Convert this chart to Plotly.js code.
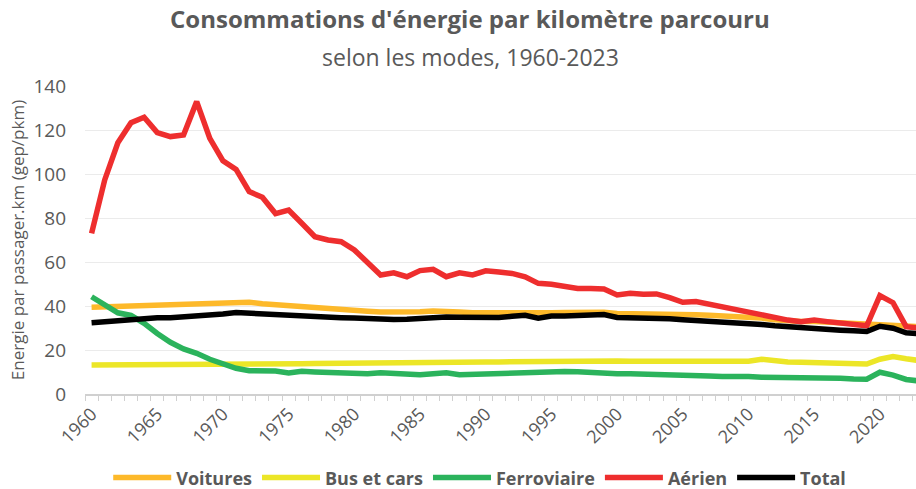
<!DOCTYPE html>
<html>
<head>
<meta charset="utf-8">
<script src="https://cdn.plot.ly/plotly-3.0.1.min.js"></script>
<style>html,body{margin:0;padding:0;background:#fff;}#chart{width:916px;height:489px;}</style>
</head>
<body>
<div id="chart"></div>
<script>
const years = [];
for (let y = 1960; y <= 2023; y++) years.push(y);

const tickYears = [1960, 1965, 1970, 1975, 1980, 1985, 1990, 1995, 2000, 2005, 2010, 2015, 2020];
const tickLabels = ["1960", "1965", "1970", "1975", "1980", "1985", "1990", "1995", "2000", "2005", "2010", "2015", "2020"];

const voitures = [
  39.4, 39.6, 40.0, 40.2, 40.5, 40.6, 40.8, 41.0, 41.3, 41.5,
  41.8, 42.0, 41.7, 41.0, 40.5, 40.0, 39.5, 39.0, 38.7, 38.3,
  38.0, 37.6, 37.3, 37.2, 37.2, 37.4, 37.7, 37.7, 37.3, 36.9,
  36.8, 36.8, 37.0, 37.1, 36.8, 36.9, 37.0, 37.1, 37.1, 37.2,
  36.6, 36.6, 36.6, 36.5, 36.3, 36.2, 36.0, 35.8, 35.6, 35.4,
  35.2, 34.5, 33.8, 33.2, 33.0, 32.9, 32.6, 32.4, 32.2, 32.0,
  32.0, 31.6, 31.0, 30.6
];
const busCars = [
  13.2, 13.2, 13.2, 13.2, 13.2, 13.2, 13.2, 13.2, 13.2, 13.2,
  13.2, 13.3, 13.4, 13.5, 13.6, 13.7, 13.8, 13.9, 14.0, 14.1,
  14.1, 14.1, 14.2, 14.2, 14.3, 14.3, 14.3, 14.4, 14.4, 14.5,
  14.6, 14.6, 14.7, 14.8, 14.9, 15.0, 15.2, 15.3, 15.3, 15.3,
  15.0, 14.9, 14.9, 14.9, 14.9, 14.9, 14.9, 14.9, 14.9, 14.9,
  14.9, 15.8, 14.9, 14.6, 14.4, 14.2, 13.8, 13.8, 13.9, 13.6,
  15.8, 17.0, 16.0, 15.2
];
const ferroviaire = [
  44.2, 40.5, 36.9, 35.7, 32.1, 27.5, 23.5, 20.5, 18.5, 15.8,
  13.8, 11.7, 10.6, 10.5, 10.4, 9.6, 10.3, 10.0, 9.8, 10.2,
  9.6, 9.2, 9.7, 9.4, 9.0, 8.8, 9.2, 9.6, 8.8, 9.0,
  9.4, 9.7, 9.3, 9.8, 9.9, 10.1, 10.2, 10.1, 9.7, 9.5,
  9.2, 9.2, 9.1, 9.2, 9.1, 8.9, 8.6, 8.2, 7.9, 8.1,
  7.9, 7.6, 7.6, 7.6, 7.6, 7.7, 7.6, 7.2, 6.8, 6.7,
  9.9, 8.6, 6.6, 5.9
];
const aerien = [
  73.0, 97.3, 114.2, 123.3, 125.8, 118.8, 117.0, 117.7, 132.9, 116.2,
  106.0, 102.1, 92.0, 89.4, 82.0, 83.6, 77.6, 71.5, 70.0, 69.2,
  65.5, 59.7, 54.1, 55.1, 53.3, 56.1, 56.7, 53.3, 55.1, 54.1,
  56.0, 55.5, 54.8, 53.3, 50.3, 49.9, 49.1, 48.0, 48.0, 47.7,
  45.0, 45.8, 45.3, 45.5, 43.8, 41.7, 42.0, 40.8, 39.7, 38.2,
  37.0, 36.4, 34.8, 33.6, 32.9, 33.6, 32.9, 32.1, 31.4, 31.0,
  44.7, 41.5, 30.6, 30.0
];
const total = [
  32.4, 32.9, 33.6, 34.2, 34.6, 34.7, 34.7, 35.0, 35.6, 36.0,
  36.4, 37.0, 36.7, 36.4, 35.6, 35.5, 35.3, 35.0, 34.8, 34.7,
  34.5, 34.2, 33.9, 33.9, 34.0, 34.5, 35.1, 35.0, 34.9, 34.7,
  34.7, 34.8, 35.3, 35.8, 34.5, 35.4, 35.5, 35.6, 35.7, 36.1,
  34.8, 34.8, 34.8, 34.7, 34.2, 33.8, 33.5, 33.2, 32.9, 32.6,
  32.2, 31.6, 31.0, 30.5, 30.0, 29.8, 29.5, 29.0, 28.7, 28.4,
  30.8, 29.9, 27.8, 27.4
];

const seriesNames = ["Voitures", "Bus et cars", "Ferroviaire", "Aérien", "Total"];
const seriesData = [voitures, busCars, ferroviaire, aerien, total];
const seriesColors = ["#FDB92A", "#ECE627", "#2BB35C", "#EE2E2E", "#000000"];

const FONT = "Open Sans, Liberation Sans, sans-serif";
const GREY = "#595959";

const traces = seriesNames.map((name, i) => ({
  type: "scatter",
  mode: "lines",
  name: "<b>" + name + "</b>",
  x: years,
  y: seriesData[i],
  line: { color: seriesColors[i], width: 5.5 },
  hoverinfo: "x+y+name"
}));
// carrier trace for the label axis (no visible mark)
traces.push({
  type: "scatter", mode: "lines", x: [years[0]], y: [null],
  xaxis: "x2", yaxis: "y", showlegend: false, hoverinfo: "skip"
});

const layout = {
  width: 916,
  height: 489,
  paper_bgcolor: "#ffffff",
  plot_bgcolor: "#ffffff",
  margin: { l: 85, r: 0, t: 86, b: 95, autoexpand: false },
  font: { family: FONT, color: GREY },
  title: {
    text: "<b>Consommations d'énergie par kilomètre parcouru</b>",
    font: { family: FONT, size: 24, color: GREY },
    x: 0.513, xanchor: "center", xref: "container",
    y: 0.959, yanchor: "middle", yref: "container"
  },
  annotations: [{
    text: "selon les modes, 1960-2023",
    xref: "paper", yref: "paper",
    x: 0.4633, y: 1.094, xanchor: "center", yanchor: "middle",
    showarrow: false,
    font: { family: FONT, size: 23, color: GREY }
  }],
  showlegend: true,
  legend: {
    orientation: "h",
    x: 0.475, xanchor: "center",
    y: -0.272, yanchor: "middle",
    font: { family: FONT, size: 18, color: GREY },
    itemwidth: 58,
    itemgap: 40,
    traceorder: "normal",
    bgcolor: "rgba(0,0,0,0)"
  },
  xaxis: {
    type: "linear",
    range: [1959.5, 2022.75],
    tickmode: "linear",
    tick0: 1959.5,
    dtick: 1,
    ticks: "outside",
    ticklen: 5,
    tickwidth: 1,
    tickcolor: "#D0D0D0",
    showticklabels: false,
    showgrid: false,
    zeroline: false,
    showline: true,
    linecolor: "#D0D0D0",
    linewidth: 1.5,
    fixedrange: true
  },
  xaxis2: {
    type: "linear",
    overlaying: "x",
    side: "bottom",
    range: [1959.5, 2022.75],
    tickmode: "array",
    tickvals: tickYears,
    ticktext: tickLabels,
    tickangle: -45,
    ticks: "",
    tickfont: { family: FONT, size: 18, color: GREY },
    ticklabelstandoff: 5,
    showgrid: false,
    zeroline: false,
    showline: false,
    fixedrange: true
  },
  yaxis: {
    range: [0, 140],
    tickmode: "linear",
    tick0: 0,
    dtick: 20,
    ticks: "",
    tickfont: { family: FONT, size: 19, color: GREY },
    gridcolor: "#EBEBEB",
    gridwidth: 1,
    zeroline: false,
    showline: false,
    ticklabelstandoff: 18,
    title: {
      text: "Energie par passager.km (gep/pkm)",
      font: { family: FONT, size: 17, color: GREY },
      standoff: 4
    },
    fixedrange: true
  }
};

Plotly.newPlot("chart", traces, layout, { displayModeBar: false });
</script>
</body>
</html>
